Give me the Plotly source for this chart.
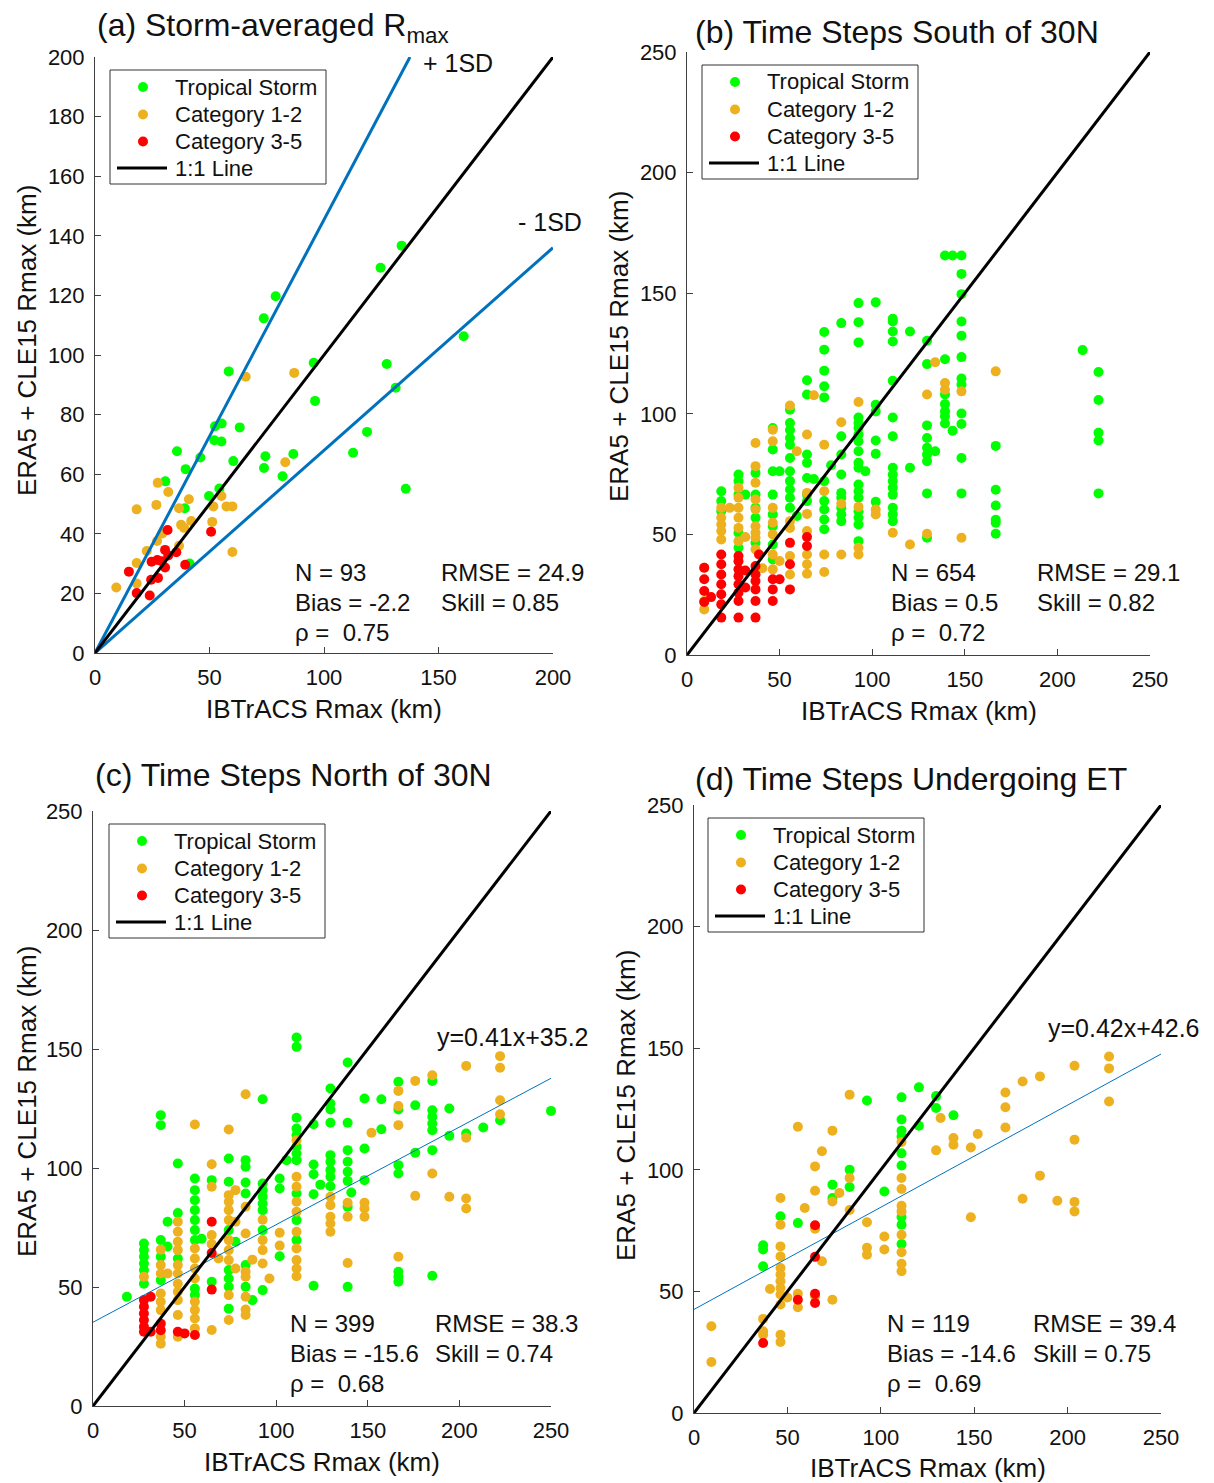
import plotly.graph_objects as go

W, H = 1214, 1483

# ---------------- data (IBTrACS km -> ERA5+CLE15 km) ----------------
# Panel (a) storm-averaged
a_ts_x = [133.9, 124.7, 78.9, 73.7, 161.0, 95.5, 127.4, 58.4, 131.3, 96.1, 52.4, 55.3, 63.2, 118.8,
          52.1, 55.2, 35.8, 46.0, 74.4, 86.6, 112.7, 60.4, 39.6, 73.8, 81.9, 30.7, 135.7, 54.3,
          49.8, 39.2, 41.3]
a_ts_y = [136.7, 129.3, 119.7, 112.3, 106.3, 97.4, 97.0, 94.5, 89.0, 84.6, 76.1, 77.0, 75.7, 74.2,
          71.4, 71.0, 67.7, 65.6, 66.0, 66.8, 67.2, 64.4, 61.7, 62.1, 59.3, 57.6, 55.1, 55.2,
          52.7, 48.6, 30.0]
a_c12_x = [65.8, 87.0, 83.1, 27.4, 32.0, 41.0, 18.2, 26.8, 36.7, 55.2, 51.7, 57.4, 60.0, 42.0,
           37.6, 38.9, 51.2, 29.4, 27.1, 36.7, 22.6, 60.0, 18.2, 18.2, 9.3]
a_c12_y = [92.7, 94.0, 64.0, 57.1, 54.0, 51.6, 48.2, 49.7, 48.6, 52.7, 49.2, 49.2, 49.2, 44.3,
           43.0, 42.0, 44.0, 40.1, 37.6, 36.0, 34.2, 33.9, 30.2, 23.3, 22.0]
a_c35_x = [31.7, 50.7, 30.6, 35.5, 24.7, 27.2, 29.1, 32.0, 39.4, 30.6, 14.8, 24.5, 27.5, 18.2, 23.9]
a_c35_y = [41.3, 40.7, 34.6, 33.8, 30.6, 31.2, 30.8, 32.7, 29.6, 28.7, 27.3, 24.6, 25.2, 20.1, 19.3]
a_sd_slopes = [1.454, 0.68]

# Panel (b) south of 30N: {IBTrACS x: [y values]}
b_ts = {213.6: [126.4], 222.2: [117.3, 105.7, 92.1, 88.9, 67.0],
        166.7: [86.7, 68.5, 62.0, 56.1, 54.8, 50.3],
        148.2: [165.6, 158.0, 149.6, 138.3, 132.4, 123.5, 114.6, 112.1, 100.1, 95.8, 81.7, 67.0],
        143.4: [165.6, 93.0], 139.3: [165.6, 122.6, 108.0, 104.0, 101.0, 99.0, 96.0],
        129.6: [130.3, 120.6, 95.2, 90.0, 85.9, 83.1, 80.3, 67.0, 48.6], 134.0: [84.5],
        120.4: [134.1, 77.6],
        111.1: [139.4, 138.3, 134.1, 130.0, 113.7, 98.5, 90.7, 77.6, 74.8, 72.1, 69.3, 66.5, 61.0, 58.3, 55.5],
        101.9: [146.2, 103.8, 101.0, 88.9, 83.4, 63.5],
        92.6: [145.9, 138.0, 129.6, 98.5, 96.2, 94.1, 91.4, 88.6, 84.5, 79.7, 77.6, 70.7, 67.9, 65.2,
               59.6, 56.9, 54.1, 47.2],
        96.3: [76.2], 83.3: [137.6, 90.7, 83.1, 74.8, 67.2, 65.2, 61.0, 58.3, 55.5], 77.8: [78.7],
        74.1: [133.9, 126.6, 117.9, 111.4, 106.8, 72.1, 63.8, 60.3, 56.2, 52.1],
        64.8: [113.9, 108.0, 83.1, 79.7, 73.4, 66.5, 63.8], 68.5: [73.0],
        55.6: [101.7, 96.2, 93.3, 90.0, 87.2, 81.7, 76.2, 72.1, 68.6, 65.2, 61.0], 59.3: [57.6],
        46.3: [94.1, 85.2, 76.2, 66.5, 58.3, 53.4, 45.8, 39.6], 50.0: [76.2],
        37.0: [75.5, 66.5, 61.0, 56.9, 46.5], 27.8: [74.8, 72.1, 66.5, 50.7, 44.5], 31.5: [66.5],
        18.5: [67.9, 63.8, 59.6]}
b_c12 = {166.7: [117.6], 148.2: [109.3, 48.6], 139.3: [112.8, 110.0], 134.0: [121.4],
         129.6: [108.0, 50.3], 120.4: [45.8], 111.1: [50.7], 101.9: [60.3, 58.3],
         92.6: [104.9, 61.4, 44.5, 41.7], 83.3: [96.5, 62.7, 41.7], 74.1: [87.2, 67.9, 41.7, 34.4],
         68.5: [107.7], 64.8: [91.4, 67.2, 58.5, 51.4, 41.7, 37.6, 33.7], 59.3: [84.5],
         55.6: [103.4, 55.5, 52.7, 41.0, 33.4], 46.3: [93.4, 88.6, 61.0, 54.8, 50.0, 41.7, 35.5],
         50.0: [39.0], 37.0: [87.9, 78.3, 71.4, 64.5, 60.3, 53.4, 50.7, 48.6, 43.8], 40.7: [36.0],
         27.8: [69.3, 65.2, 61.0, 56.9, 52.7, 47.2], 31.5: [48.9], 23.1: [61.0],
         18.5: [61.0, 56.9, 54.1, 51.4, 47.9], 9.3: [36.2, 22.4, 18.9]}
b_c35 = {64.8: [48.9, 45.2], 55.6: [46.5, 37.6, 27.2], 46.3: [31.4, 27.2, 22.4], 50.0: [31.4],
         38.9: [41.7], 37.0: [36.9, 33.4, 30.7, 27.2, 22.4, 15.5],
         27.8: [41.0, 38.9, 35.5, 32.7, 29.3, 25.8, 22.4, 15.5], 31.5: [35.0, 28.0],
         18.5: [41.7, 37.6, 33.4, 29.3, 25.2, 21.0, 15.5], 9.3: [36.2, 31.4, 26.5, 22.0], 13.0: [24.0]}

# Panel (c) north of 30N
c_ts = {18.5: [45.9], 27.8: [68.3, 65.5, 62.7, 59.9, 57.1, 51.4], 37.0: [122.2, 118.0, 69.7, 62.7, 52.9],
        40.7: [77.4, 67.0], 46.3: [101.9, 81.1, 62.0],
        55.6: [95.6, 90.7, 86.5, 82.3, 78.1, 73.9, 69.7, 49.4, 46.6], 59.3: [70.3], 64.8: [94.9, 52.2],
        74.1: [104.0, 94.2, 73.9, 57.1, 53.6, 50.1, 40.9], 77.8: [69.0],
        83.3: [103.3, 100.5, 93.9, 89.3, 59.2, 50.1], 87.0: [44.5],
        92.6: [128.9, 93.5, 90.7, 87.9, 85.1, 82.3, 73.9, 48.7], 101.9: [95.6, 91.4, 62.9], 105.6: [103.3],
        111.1: [154.8, 150.9, 121.1, 116.6, 113.8, 108.9, 106.1, 103.3, 89.3, 78.1, 69.7],
        120.4: [118.4, 101.5, 97.4, 89.0, 50.5], 124.1: [93.0],
        129.6: [133.4, 127.1, 124.6, 119.0, 105.4, 102.6, 99.1, 96.3, 92.3],
        139.0: [144.3, 119.0, 107.5, 102.6, 98.4, 94.6, 83.7, 50.1], 141.0: [89.7],
        148.2: [129.2, 108.2, 94.9], 157.4: [128.9, 116.3],
        166.7: [136.2, 124.6, 101.2, 97.7, 56.4, 54.3, 52.2], 175.9: [126.4, 106.4],
        185.2: [136.6, 124.3, 121.5, 118.7, 115.9, 107.5, 54.7], 194.5: [125.0, 113.5],
        203.7: [114.5], 213.0: [117.0], 222.2: [120.1], 250.0: [124.0]}
c_c12 = {27.8: [54.3], 37.0: [65.7, 59.2, 55.7, 47.3, 43.8, 40.3, 29.1, 26.2], 40.7: [55.7],
         46.3: [77.4, 73.2, 69.0, 65.5, 59.2, 55.7, 51.4, 48.0, 44.5, 38.2, 29.1],
         55.6: [118.3, 66.2, 62.0, 57.8, 53.6, 43.8, 40.3, 36.8, 32.6],
         64.8: [101.6, 92.1, 71.8, 68.0, 31.9], 68.5: [62.0],
         74.1: [116.2, 88.6, 85.8, 82.3, 78.1, 69.7, 65.5, 61.3, 46.6, 36.1], 77.8: [90.7, 77.4, 57.8],
         83.3: [131.0, 83.7, 72.5, 56.4, 54.3, 45.9, 40.5, 38.2], 87.0: [61.5],
         92.6: [78.3, 69.7, 65.5, 59.9], 96.3: [53.6], 101.9: [72.8, 67.4],
         111.1: [111.7, 96.3, 92.1, 85.8, 81.6, 73.2, 66.2, 61.3, 57.8, 54.5],
         129.6: [87.9, 84.4, 79.5, 76.7, 73.2], 139.0: [85.4, 79.5, 60.1], 152.0: [114.8],
         148.2: [85.4, 83.0, 79.5], 166.7: [132.4, 126.0, 118.0, 62.7], 175.9: [136.6, 88.3],
         185.2: [139.0, 97.7], 194.5: [87.9], 203.7: [142.9, 112.7, 87.2, 83.0],
         222.2: [147.0, 142.1, 128.5, 122.6]}
c_c35 = {27.8: [44.5, 41.7, 38.9, 36.1, 33.3, 31.2], 31.5: [45.9, 31.2], 37.0: [34.6, 31.8],
         46.3: [31.2], 50.0: [30.5], 55.6: [29.8], 64.8: [77.4, 64.3, 48.9]}
c_fit = (0.41, 35.2)

# Panel (d) undergoing ET
d_ts = {37.0: [69.0, 67.2, 60.3], 46.3: [80.9], 55.6: [78.1], 74.1: [93.9, 88.4], 83.3: [100.0, 92.9],
        92.6: [128.5], 101.9: [91.1],
        111.1: [129.8, 120.7, 116.1, 113.7, 106.8, 101.8, 80.6, 77.4, 69.5],
        120.4: [133.9, 118.1], 129.6: [130.3, 125.4], 138.9: [122.4]}
d_c12 = {9.3: [35.7, 21.0], 37.0: [38.7, 33.6, 32.2], 40.7: [51.0],
         46.3: [88.4, 77.4, 68.5, 64.4, 59.6, 56.9, 54.2, 51.4, 48.7, 44.6, 32.2, 29.2], 50.0: [47.5],
         55.6: [117.7, 49.0, 43.5], 59.3: [84.3], 64.8: [101.4, 91.4, 75.8, 48.0], 68.5: [107.6, 62.4],
         74.1: [116.1, 87.0, 46.6], 77.8: [90.5], 83.3: [130.9, 96.6, 83.5], 92.6: [78.4, 67.9, 65.1],
         101.9: [72.6, 67.2], 111.1: [111.4, 96.6, 92.1, 85.2, 82.9, 73.3, 66.1, 61.4, 58.3],
         132.0: [121.3], 129.6: [108.0], 138.9: [113.1, 110.3], 148.2: [109.2, 80.5], 151.9: [114.7],
         166.7: [131.8, 125.7, 117.4], 175.9: [136.3, 88.1], 185.2: [138.4, 97.6], 194.5: [87.3],
         203.7: [142.8, 112.4, 86.8, 82.9], 222.2: [146.6, 141.7, 128.1]}
d_c35 = {37.0: [28.8], 55.6: [46.6], 64.8: [77.2, 64.2, 49.0, 45.2]}
d_fit = (0.42, 42.6)

stats = {
    "a": ["N = 93", "RMSE = 24.9", "Bias = -2.2", "Skill = 0.85", "\u03c1 =  0.75"],
    "b": ["N = 654", "RMSE = 29.1", "Bias = 0.5", "Skill = 0.82", "\u03c1 =  0.72"],
    "c": ["N = 399", "RMSE = 38.3", "Bias = -15.6", "Skill = 0.74", "\u03c1 =  0.68"],
    "d": ["N = 119", "RMSE = 39.4", "Bias = -14.6", "Skill = 0.75", "\u03c1 =  0.69"],
}
titles = {"a": "(a) Storm-averaged R<sub>max</sub>", "b": "(b) Time Steps South of 30N",
          "c": "(c) Time Steps North of 30N", "d": "(d) Time Steps Undergoing ET"}
cat_names = ["Tropical Storm", "Category 1-2", "Category 3-5"]
cat_colors = ["#00FF00", "#EDB120", "#FF0000"]
line_name = "1:1 Line"

# ---------------- layout geometry (pixels) ----------------
FONT = "Liberation Sans, Arial, sans-serif"
TXT = "#111111"
AXC = "#404040"
panels = {
    "a": dict(box=(95, 553, 57, 653), vmax=200, ydt=20, leg=(110, 70), st=(293, 439, 572),
              title=(95, 27), ytc=341, xtc=709),
    "b": dict(box=(687, 1150, 52, 655), vmax=250, ydt=50, leg=(702, 65), st=(889, 1035, 572),
              title=(693, 32), ytc=347, xtc=711),
    "c": dict(box=(93, 551, 811, 1406), vmax=250, ydt=50, leg=(109, 824), st=(288, 433, 1323),
              title=(93, 775), ytc=1102, xtc=1462),
    "d": dict(box=(694, 1161, 805, 1413), vmax=250, ydt=50, leg=(708, 818), st=(885, 1031, 1323),
              title=(693, 779), ytc=1106, xtc=1468),
}


def px(xp):
    return xp / W


def py(yp):
    return 1 - yp / H


def expand(d):
    xs, ys = [], []
    for k, v in d.items():
        for y in v:
            xs.append(k)
            ys.append(y)
    return xs, ys


fig = go.Figure()
layout = dict(width=W, height=H, margin=dict(l=0, r=0, t=0, b=0, autoexpand=False),
              paper_bgcolor="white", plot_bgcolor="white", showlegend=False,
              font=dict(family=FONT, color=TXT))
annotations = []
shapes = []

data_sets = {
    "a": [(a_ts_x, a_ts_y), (a_c12_x, a_c12_y), (a_c35_x, a_c35_y)],
    "b": [expand(b_ts), expand(b_c12), expand(b_c35)],
    "c": [expand(c_ts), expand(c_c12), expand(c_c35)],
    "d": [expand(d_ts), expand(d_c12), expand(d_c35)],
}
fits = {"c": c_fit, "d": d_fit}


def ann(text, x, y, size, xanchor="left", **kw):
    d = dict(text=text, x=px(x), y=py(y), xref="paper", yref="paper", xanchor=xanchor,
             yanchor="middle", showarrow=False, font=dict(size=size, family=FONT, color=TXT))
    d.update(kw)
    annotations.append(d)


for i, key in enumerate(["a", "b", "c", "d"]):
    p = panels[key]
    l, r, t, b = p["box"]
    vmax = p["vmax"]
    sfx = "" if i == 0 else str(i + 1)
    xa, ya = "x" + sfx, "y" + sfx
    ax_common = dict(showgrid=False, zeroline=False, showline=True, linecolor=AXC, linewidth=1,
                     ticks="inside", ticklen=6, tickcolor=AXC, mirror=False,
                     tickfont=dict(size=22, family=FONT, color=TXT), fixedrange=True)
    layout["xaxis" + sfx] = dict(ax_common, domain=[px(l), px(r)], range=[0, vmax], anchor=ya,
                                 tickvals=list(range(0, vmax + 1, 50)), ticklabelstandoff=5)
    layout["yaxis" + sfx] = dict(ax_common, domain=[py(b), py(t)], range=[0, vmax], anchor=xa,
                                 tickvals=list(range(0, vmax + 1, p["ydt"])), ticklabelstandoff=5)
    # scatter points
    for (xs, ys), nm, col in zip(data_sets[key], cat_names, cat_colors):
        fig.add_trace(go.Scatter(x=xs, y=ys, mode="markers", name=nm, xaxis=xa, yaxis=ya,
                                 marker=dict(size=10, color=col, line=dict(width=0)), cliponaxis=False))
    # +/- 1SD lines (panel a)
    if key == "a":
        for s in a_sd_slopes:
            xe = min(vmax, vmax / s)
            fig.add_trace(go.Scatter(x=[0, xe], y=[0, s * xe], mode="lines", xaxis=xa, yaxis=ya,
                                     line=dict(color="#0072BD", width=3), cliponaxis=False))
    if key in fits:
        m, c0 = fits[key]
        fig.add_trace(go.Scatter(x=[0, vmax], y=[c0, m * vmax + c0], mode="lines", xaxis=xa, yaxis=ya,
                                 line=dict(color="#0072BD", width=1)))
    # 1:1 line
    fig.add_trace(go.Scatter(x=[0, vmax], y=[0, vmax], mode="lines", name=line_name, xaxis=xa,
                             yaxis=ya, line=dict(color="black", width=3), cliponaxis=False))

    # legend box (drawn by hand to match the original box geometry)
    L, T = p["leg"]
    shapes.append(dict(type="rect", xref="paper", yref="paper", x0=px(L), x1=px(L + 216),
                       y0=py(T + 114), y1=py(T), line=dict(color="#333333", width=1),
                       fillcolor="white", layer="above"))
    rows = [T + 17, T + 44.5, T + 71.5, T + 98]
    for ry, nm, col in zip(rows[:3], cat_names, cat_colors):
        shapes.append(dict(type="circle", xref="paper", yref="paper", x0=px(L + 28), x1=px(L + 38),
                           y0=py(ry + 5), y1=py(ry - 5), fillcolor=col, line=dict(width=0),
                           layer="above"))
        ann(nm, L + 63, ry, 22)
    shapes.append(dict(type="line", xref="paper", yref="paper", x0=px(L + 7), x1=px(L + 57),
                       y0=py(rows[3]), y1=py(rows[3]), line=dict(color="black", width=3), layer="above"))
    ann(line_name, L + 63, rows[3], 22)

    # panel title
    tx, ty = p["title"]
    ann(titles[key], tx, ty, 32)
    # axis titles
    ann("IBTrACS Rmax (km)", (l + r) / 2, p["xtc"], 26, xanchor="center")
    ann("ERA5 + CLE15 Rmax (km)", 27 if key in ("a", "c") else l - 68, p["ytc"], 26,
        xanchor="center", textangle=-90)
    # statistics
    s1, s2, sy = p["st"]
    st = stats[key]
    for txt, xx, yy in [(st[0], s1, sy), (st[1], s2, sy), (st[2], s1, sy + 30), (st[3], s2, sy + 30),
                        (st[4], s1, sy + 60)]:
        ann(txt, xx, yy, 24)

# SD labels & fit labels
ann("+ 1SD", 421, 63, 25)
ann("- 1SD", 516, 222, 25)
ann("y=0.41x+35.2", 435, 1037, 25)
ann("y=0.42x+42.6", 1046, 1028, 25)

layout["annotations"] = annotations
layout["shapes"] = shapes
fig.update_layout(**layout)
fig.write_html("out.html")
